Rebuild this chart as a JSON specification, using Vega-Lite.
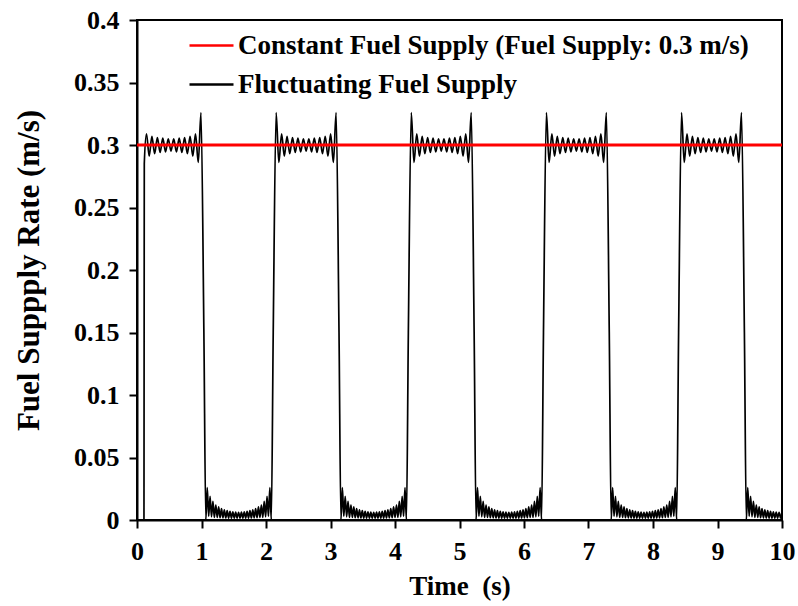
{
  "$schema": "https://vega.github.io/schema/vega-lite/v6.json",
  "width": 645,
  "height": 500,
  "autosize": "none",
  "padding": {"left": 137, "top": 20, "right": 16, "bottom": 86},
  "background": "white",
  "config": {
    "view": {"stroke": "black", "strokeWidth": 2},
    "axis": {
      "domainColor": "black", "domainWidth": 2, "tickColor": "black", "tickWidth": 2, "tickSize": 8, "labelFlush": false,
      "grid": false, "labelFont": "Liberation Serif", "labelFontWeight": "bold", "labelFontSize": 26, "labelColor": "black",
      "titleFont": "Liberation Serif", "titleFontWeight": "bold", "titleFontSize": 27, "titleColor": "black"
    }
  },
  "datasets": {
    "constant": [{"t": 0, "v": 0.3}, {"t": 10, "v": 0.3}],
    "fluct": [
      {"t":0,"v":0},{"t":0.108,"v":0},{"t":0.113,"v":0.285},
      {"t":0.147,"v":0.309},{"t":0.189,"v":0.291},{"t":0.231,"v":0.307},{"t":0.273,"v":0.293},{"t":0.316,"v":0.306},{"t":0.358,"v":0.294},{"t":0.400,"v":0.3055},{"t":0.442,"v":0.2945},{"t":0.485,"v":0.305},{"t":0.527,"v":0.295},{"t":0.569,"v":0.305},{"t":0.612,"v":0.2945},{"t":0.654,"v":0.3055},{"t":0.696,"v":0.294},{"t":0.738,"v":0.306},{"t":0.781,"v":0.293},{"t":0.823,"v":0.307},{"t":0.865,"v":0.291},{"t":0.907,"v":0.309},{"t":0.950,"v":0.286},{"t":0.992,"v":0.326},
      {"t":1.037,"v":0.15},
      {"t":1.067,"v":0},{"t":1.089,"v":0.026},{"t":1.111,"v":0.003},{"t":1.133,"v":0.019},{"t":1.155,"v":0.0025},{"t":1.177,"v":0.015},{"t":1.199,"v":0.002},{"t":1.222,"v":0.012},{"t":1.244,"v":0.002},{"t":1.266,"v":0.0105},{"t":1.288,"v":0.0018},{"t":1.310,"v":0.0092},{"t":1.332,"v":0.0017},{"t":1.354,"v":0.0082},{"t":1.376,"v":0.0016},{"t":1.398,"v":0.0075},{"t":1.420,"v":0.0015},{"t":1.442,"v":0.007},{"t":1.464,"v":0.0015},{"t":1.486,"v":0.0066},{"t":1.508,"v":0.0015},{"t":1.530,"v":0.0063},{"t":1.552,"v":0.0015},{"t":1.575,"v":0.0062},{"t":1.597,"v":0.0015},{"t":1.619,"v":0.0063},{"t":1.641,"v":0.0015},{"t":1.663,"v":0.0066},{"t":1.685,"v":0.0015},{"t":1.707,"v":0.007},{"t":1.729,"v":0.0015},{"t":1.751,"v":0.0075},{"t":1.773,"v":0.0016},{"t":1.795,"v":0.0082},{"t":1.817,"v":0.0017},{"t":1.839,"v":0.0092},{"t":1.861,"v":0.0018},{"t":1.883,"v":0.0105},{"t":1.906,"v":0.002},{"t":1.928,"v":0.012},{"t":1.950,"v":0.002},{"t":1.972,"v":0.015},{"t":1.994,"v":0.0025},{"t":2.016,"v":0.019},{"t":2.038,"v":0.003},{"t":2.060,"v":0.026},{"t":2.082,"v":0},
      {"t":2.112,"v":0.15},
      {"t":2.157,"v":0.326},{"t":2.199,"v":0.286},{"t":2.242,"v":0.309},{"t":2.284,"v":0.291},{"t":2.326,"v":0.307},{"t":2.368,"v":0.293},{"t":2.411,"v":0.306},{"t":2.453,"v":0.294},{"t":2.495,"v":0.3055},{"t":2.537,"v":0.2945},{"t":2.580,"v":0.305},{"t":2.622,"v":0.295},{"t":2.664,"v":0.305},{"t":2.707,"v":0.2945},{"t":2.749,"v":0.3055},{"t":2.791,"v":0.294},{"t":2.833,"v":0.306},{"t":2.876,"v":0.293},{"t":2.918,"v":0.307},{"t":2.960,"v":0.291},{"t":3.002,"v":0.309},{"t":3.045,"v":0.286},{"t":3.087,"v":0.326},
      {"t":3.132,"v":0.15},
      {"t":3.162,"v":0},{"t":3.184,"v":0.026},{"t":3.206,"v":0.003},{"t":3.228,"v":0.019},{"t":3.250,"v":0.0025},{"t":3.272,"v":0.015},{"t":3.294,"v":0.002},{"t":3.317,"v":0.012},{"t":3.339,"v":0.002},{"t":3.361,"v":0.0105},{"t":3.383,"v":0.0018},{"t":3.405,"v":0.0092},{"t":3.427,"v":0.0017},{"t":3.449,"v":0.0082},{"t":3.471,"v":0.0016},{"t":3.493,"v":0.0075},{"t":3.515,"v":0.0015},{"t":3.537,"v":0.007},{"t":3.559,"v":0.0015},{"t":3.581,"v":0.0066},{"t":3.603,"v":0.0015},{"t":3.625,"v":0.0063},{"t":3.647,"v":0.0015},{"t":3.670,"v":0.0062},{"t":3.692,"v":0.0015},{"t":3.714,"v":0.0063},{"t":3.736,"v":0.0015},{"t":3.758,"v":0.0066},{"t":3.780,"v":0.0015},{"t":3.802,"v":0.007},{"t":3.824,"v":0.0015},{"t":3.846,"v":0.0075},{"t":3.868,"v":0.0016},{"t":3.890,"v":0.0082},{"t":3.912,"v":0.0017},{"t":3.934,"v":0.0092},{"t":3.956,"v":0.0018},{"t":3.978,"v":0.0105},{"t":4.001,"v":0.002},{"t":4.023,"v":0.012},{"t":4.045,"v":0.002},{"t":4.067,"v":0.015},{"t":4.089,"v":0.0025},{"t":4.111,"v":0.019},{"t":4.133,"v":0.003},{"t":4.155,"v":0.026},{"t":4.177,"v":0},
      {"t":4.207,"v":0.15},
      {"t":4.252,"v":0.326},{"t":4.294,"v":0.286},{"t":4.337,"v":0.309},{"t":4.379,"v":0.291},{"t":4.421,"v":0.307},{"t":4.463,"v":0.293},{"t":4.506,"v":0.306},{"t":4.548,"v":0.294},{"t":4.590,"v":0.3055},{"t":4.632,"v":0.2945},{"t":4.675,"v":0.305},{"t":4.717,"v":0.295},{"t":4.759,"v":0.305},{"t":4.802,"v":0.2945},{"t":4.844,"v":0.3055},{"t":4.886,"v":0.294},{"t":4.928,"v":0.306},{"t":4.971,"v":0.293},{"t":5.013,"v":0.307},{"t":5.055,"v":0.291},{"t":5.097,"v":0.309},{"t":5.140,"v":0.286},{"t":5.182,"v":0.326},
      {"t":5.227,"v":0.15},
      {"t":5.257,"v":0},{"t":5.279,"v":0.026},{"t":5.301,"v":0.003},{"t":5.323,"v":0.019},{"t":5.345,"v":0.0025},{"t":5.367,"v":0.015},{"t":5.389,"v":0.002},{"t":5.412,"v":0.012},{"t":5.434,"v":0.002},{"t":5.456,"v":0.0105},{"t":5.478,"v":0.0018},{"t":5.500,"v":0.0092},{"t":5.522,"v":0.0017},{"t":5.544,"v":0.0082},{"t":5.566,"v":0.0016},{"t":5.588,"v":0.0075},{"t":5.610,"v":0.0015},{"t":5.632,"v":0.007},{"t":5.654,"v":0.0015},{"t":5.676,"v":0.0066},{"t":5.698,"v":0.0015},{"t":5.720,"v":0.0063},{"t":5.742,"v":0.0015},{"t":5.765,"v":0.0062},{"t":5.787,"v":0.0015},{"t":5.809,"v":0.0063},{"t":5.831,"v":0.0015},{"t":5.853,"v":0.0066},{"t":5.875,"v":0.0015},{"t":5.897,"v":0.007},{"t":5.919,"v":0.0015},{"t":5.941,"v":0.0075},{"t":5.963,"v":0.0016},{"t":5.985,"v":0.0082},{"t":6.007,"v":0.0017},{"t":6.029,"v":0.0092},{"t":6.051,"v":0.0018},{"t":6.073,"v":0.0105},{"t":6.096,"v":0.002},{"t":6.118,"v":0.012},{"t":6.140,"v":0.002},{"t":6.162,"v":0.015},{"t":6.184,"v":0.0025},{"t":6.206,"v":0.019},{"t":6.228,"v":0.003},{"t":6.250,"v":0.026},{"t":6.272,"v":0},
      {"t":6.302,"v":0.15},
      {"t":6.347,"v":0.326},{"t":6.389,"v":0.286},{"t":6.432,"v":0.309},{"t":6.474,"v":0.291},{"t":6.516,"v":0.307},{"t":6.558,"v":0.293},{"t":6.601,"v":0.306},{"t":6.643,"v":0.294},{"t":6.685,"v":0.3055},{"t":6.727,"v":0.2945},{"t":6.770,"v":0.305},{"t":6.812,"v":0.295},{"t":6.854,"v":0.305},{"t":6.897,"v":0.2945},{"t":6.939,"v":0.3055},{"t":6.981,"v":0.294},{"t":7.023,"v":0.306},{"t":7.066,"v":0.293},{"t":7.108,"v":0.307},{"t":7.150,"v":0.291},{"t":7.192,"v":0.309},{"t":7.235,"v":0.286},{"t":7.277,"v":0.326},
      {"t":7.322,"v":0.15},
      {"t":7.352,"v":0},{"t":7.374,"v":0.026},{"t":7.396,"v":0.003},{"t":7.418,"v":0.019},{"t":7.440,"v":0.0025},{"t":7.462,"v":0.015},{"t":7.484,"v":0.002},{"t":7.507,"v":0.012},{"t":7.529,"v":0.002},{"t":7.551,"v":0.0105},{"t":7.573,"v":0.0018},{"t":7.595,"v":0.0092},{"t":7.617,"v":0.0017},{"t":7.639,"v":0.0082},{"t":7.661,"v":0.0016},{"t":7.683,"v":0.0075},{"t":7.705,"v":0.0015},{"t":7.727,"v":0.007},{"t":7.749,"v":0.0015},{"t":7.771,"v":0.0066},{"t":7.793,"v":0.0015},{"t":7.815,"v":0.0063},{"t":7.837,"v":0.0015},{"t":7.860,"v":0.0062},{"t":7.882,"v":0.0015},{"t":7.904,"v":0.0063},{"t":7.926,"v":0.0015},{"t":7.948,"v":0.0066},{"t":7.970,"v":0.0015},{"t":7.992,"v":0.007},{"t":8.014,"v":0.0015},{"t":8.036,"v":0.0075},{"t":8.058,"v":0.0016},{"t":8.080,"v":0.0082},{"t":8.102,"v":0.0017},{"t":8.124,"v":0.0092},{"t":8.146,"v":0.0018},{"t":8.168,"v":0.0105},{"t":8.191,"v":0.002},{"t":8.213,"v":0.012},{"t":8.235,"v":0.002},{"t":8.257,"v":0.015},{"t":8.279,"v":0.0025},{"t":8.301,"v":0.019},{"t":8.323,"v":0.003},{"t":8.345,"v":0.026},{"t":8.367,"v":0},
      {"t":8.397,"v":0.15},
      {"t":8.442,"v":0.326},{"t":8.484,"v":0.286},{"t":8.527,"v":0.309},{"t":8.569,"v":0.291},{"t":8.611,"v":0.307},{"t":8.653,"v":0.293},{"t":8.696,"v":0.306},{"t":8.738,"v":0.294},{"t":8.780,"v":0.3055},{"t":8.822,"v":0.2945},{"t":8.865,"v":0.305},{"t":8.907,"v":0.295},{"t":8.949,"v":0.305},{"t":8.992,"v":0.2945},{"t":9.034,"v":0.3055},{"t":9.076,"v":0.294},{"t":9.118,"v":0.306},{"t":9.161,"v":0.293},{"t":9.203,"v":0.307},{"t":9.245,"v":0.291},{"t":9.287,"v":0.309},{"t":9.330,"v":0.286},{"t":9.372,"v":0.326},
      {"t":9.417,"v":0.15},
      {"t":9.447,"v":0},{"t":9.469,"v":0.026},{"t":9.491,"v":0.003},{"t":9.513,"v":0.019},{"t":9.535,"v":0.0025},{"t":9.557,"v":0.015},{"t":9.579,"v":0.002},{"t":9.602,"v":0.012},{"t":9.624,"v":0.002},{"t":9.646,"v":0.0105},{"t":9.668,"v":0.0018},{"t":9.690,"v":0.0092},{"t":9.712,"v":0.0017},{"t":9.734,"v":0.0082},{"t":9.756,"v":0.0016},{"t":9.778,"v":0.0075},{"t":9.800,"v":0.0015},{"t":9.822,"v":0.007},{"t":9.844,"v":0.0015},{"t":9.866,"v":0.0066},{"t":9.888,"v":0.0015},{"t":9.910,"v":0.0063},{"t":9.932,"v":0.0015},{"t":9.955,"v":0.0062},{"t":9.977,"v":0.0015},{"t":9.999,"v":0.0063}
    ]
  },
  "encoding": {
    "x": {"field": "t", "type": "quantitative", "scale": {"domain": [0, 10], "nice": false},
      "axis": {"title": "Time\u00a0\u00a0(s)", "values": [0,1,2,3,4,5,6,7,8,9,10], "format": "d", "labelPadding": 10, "titlePadding": 9}},
    "y": {"field": "v", "type": "quantitative", "scale": {"domain": [0, 0.4], "nice": false},
      "axis": {"title": "Fuel Suppply Rate (m/s)", "titleFontSize": 31, "values": [0,0.05,0.1,0.15,0.2,0.25,0.3,0.35,0.4], "format": "~g", "labelPadding": 10, "titlePadding": 28}}
  },
  "layer": [
    {
      "data": {"name": "fluct"},
      "mark": {"type": "line", "strokeWidth": 1.7, "clip": true, "interpolate": "monotone"},
      "encoding": {
        "color": {"datum": "Fluctuating Fuel Supply", "type": "nominal",
          "scale": {"domain": ["Constant Fuel Supply (Fuel Supply: 0.3 m/s)", "Fluctuating Fuel Supply"], "range": ["#ff0000", "#000000"]},
          "legend": {"orient": "none", "legendX": 51, "legendY": 2, "title": null, "symbolType": "stroke", "symbolSize": 1936,
            "symbolStrokeWidth": 2.5, "labelFont": "Liberation Serif", "labelFontWeight": "bold", "labelFontSize": 27,
            "labelColor": "black", "labelOffset": 3, "labelLimit": 0, "rowPadding": 2, "padding": 0}}
      }
    },
    {
      "data": {"name": "constant"},
      "mark": {"type": "line", "strokeWidth": 3, "clip": true},
      "encoding": {
        "color": {"datum": "Constant Fuel Supply (Fuel Supply: 0.3 m/s)", "type": "nominal"}
      }
    }
  ]
}
